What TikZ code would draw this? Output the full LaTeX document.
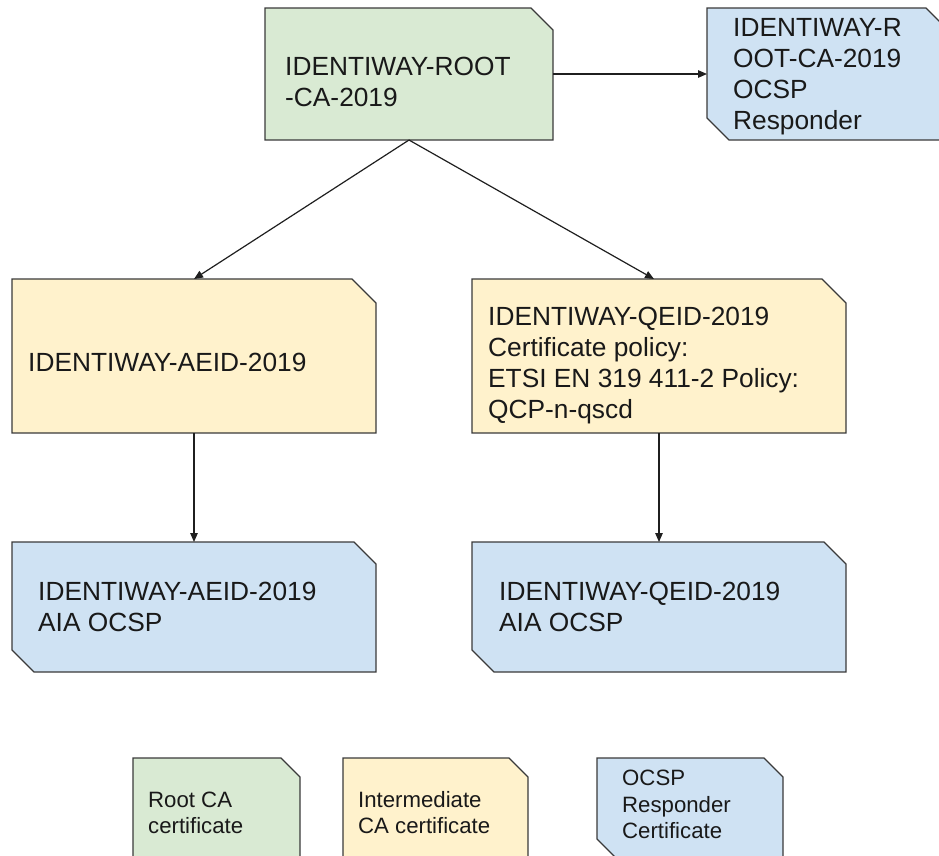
\documentclass[tikz,border=0pt]{standalone}
\usepackage{fontspec}
\setmainfont{Liberation Sans}
\usetikzlibrary{arrows.meta}

\definecolor{rootgreen}{HTML}{D9EAD3}
\definecolor{interyellow}{HTML}{FFF2CC}
\definecolor{ocspblue}{HTML}{CFE2F3}
\definecolor{edgegray}{HTML}{3A3A3A}

\tikzset{
  area/.style={rectangle, draw=none, inner sep=0pt, outer sep=0pt},
  shapeline/.style={draw=edgegray, line width=1.3pt, line join=miter},
  txt/.style={font=\fontsize{26.3}{31}\selectfont, align=left, inner sep=0pt, anchor=west, text=black!90},
  legtxt/.style={font=\fontsize{22.2}{26.5}\selectfont, align=left, inner sep=0pt, anchor=west, text=black!90},
  conn/.style={draw=black!88, line width=1.2pt, -{Triangle[length=9pt,width=7.5pt]}}
}

% top-right snipped box
\newcommand\snipTR[3]{%
  \path[shapeline, fill=#2] (#1.north west) -- ([xshift=-#3pt]#1.north east)
    -- ([yshift=-#3pt]#1.north east) -- (#1.south east) -- (#1.south west) -- cycle;}
% top-right and bottom-left snipped box
\newcommand\snipTRBL[3]{%
  \path[shapeline, fill=#2] (#1.north west) -- ([xshift=-#3pt]#1.north east)
    -- ([yshift=-#3pt]#1.north east) -- (#1.south east)
    -- ([xshift=#3pt]#1.south west) -- ([yshift=#3pt]#1.south west) -- cycle;}

\begin{document}
\begin{tikzpicture}[x=1pt,y=-1pt]
\useasboundingbox (0,0) rectangle (939,855);

% box areas
\node[area, minimum width=288, minimum height=132] (root)  at (409,74) {};
\node[area, minimum width=241, minimum height=132] (ocspr) at (827.5,74) {};
\node[area, minimum width=364, minimum height=154] (aeid)  at (194,356) {};
\node[area, minimum width=374, minimum height=154] (qeid)  at (659,356) {};
\node[area, minimum width=364, minimum height=130] (aiaa)  at (194,607) {};
\node[area, minimum width=374, minimum height=130] (aiaq)  at (659,607) {};
\node[area, minimum width=167, minimum height=100] (lroot) at (216.5,808) {};
\node[area, minimum width=185, minimum height=100] (linter) at (435.5,808) {};
\node[area, minimum width=186, minimum height=100] (locsp) at (690,808) {};

% shapes
\snipTR{root}{rootgreen}{22}
\snipTRBL{ocspr}{ocspblue}{22}
\snipTR{aeid}{interyellow}{24}
\snipTR{qeid}{interyellow}{24}
\snipTRBL{aiaa}{ocspblue}{22}
\snipTRBL{aiaq}{ocspblue}{22}
\snipTR{lroot}{rootgreen}{19}
\snipTR{linter}{interyellow}{19}
\snipTRBL{locsp}{ocspblue}{19}

% texts
\node[txt] (troot)  at (285,82)    {IDENTIWAY-ROOT\\-CA-2019};
\node[txt] (tocspr) at (733,77)    {IDENTIWAY-R\\OOT-CA-2019\\OCSP\\Responder};
\node[txt] (taeid)  at (28,362)    {IDENTIWAY-AEID-2019};
\node[txt] (tqeid)  at (488,366)   {IDENTIWAY-QEID-2019\\Certificate policy:\\ETSI EN 319 411-2 Policy:\\QCP-n-qscd};
\node[txt] (taiaa)  at (38,606.5)  {IDENTIWAY-AEID-2019\\AIA OCSP};
\node[txt] (taiaq)  at (499,606.5) {IDENTIWAY-QEID-2019\\AIA OCSP};
\node[legtxt] (tlroot)  at (148,813)   {Root CA\\certificate};
\node[legtxt] (tlinter) at (358,812.5) {Intermediate\\CA certificate};
\node[legtxt] (tlocsp)  at (622,804.5) {OCSP\\Responder\\Certificate};

% connectors
\draw[conn] (root.east) -- (ocspr.west);
\draw[conn] (root.south) -- (aeid.north);
\draw[conn] (root.south) -- ([xshift=-5pt]qeid.north);
\draw[conn] (aeid.south) -- (aiaa.north);
\draw[conn] (qeid.south) -- (aiaq.north);
\end{tikzpicture}
\end{document}
